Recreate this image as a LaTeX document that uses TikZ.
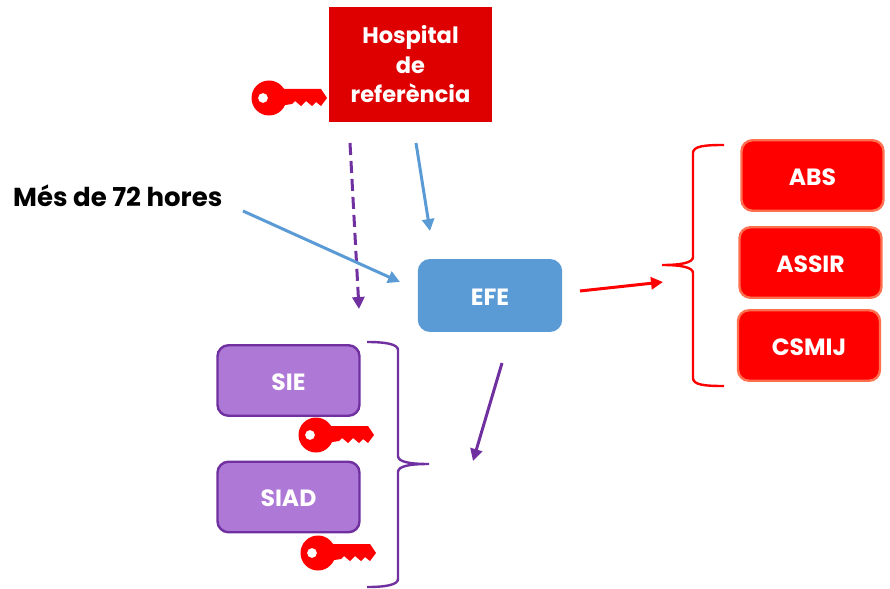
\documentclass[tikz,border=0pt]{standalone}
\usepackage{fontspec}
\setmainfont{Poppins}
\usetikzlibrary{arrows.meta}
\definecolor{hospred}{RGB}{222, 0, 0}
\definecolor{keyred}{RGB}{255, 0, 0}
\definecolor{redline}{RGB}{255, 112, 80}
\definecolor{efeblue}{RGB}{91, 155, 213}
\definecolor{lilac}{RGB}{173, 120, 214}
\definecolor{violet}{RGB}{112, 48, 160}
\tikzset{
    box/.style={draw, rounded corners=11pt, line width=2.4pt, minimum width=142pt,
        minimum height=70.5pt, text=white, text height=20pt,
        font=\fontsize{23.5}{28}\selectfont\bfseries},
    redbox/.style={box, fill=keyred, draw=redline},
    purplebox/.style={box, fill=lilac, draw=violet},
    link/.style={-{Triangle[length=12pt, width=12pt]}, line width=3pt},
    brace/.style={line width=2.4pt},
    pics/redkey/.style={code={
        \fill[keyred, even odd rule] (0, 0) circle (17.5)
            (-6, 0) circle (5);
        \fill[keyred] (10, -9) -- (52, -9) -- (58, 0) -- (52, 8) -- (47, 4)
            -- (43, 8) -- (37, 3) -- (32, 8) -- (26, 3) -- (23, 6) -- (10, 8)
            -- cycle;
    }}
}
\begin{document}
\begin{tikzpicture}[x=1pt, y=-1pt]
    \useasboundingbox (0, 0) rectangle (890, 588);

    \node[fill=hospred, minimum width=163pt, minimum height=115pt, text=white,
        align=center, font=\fontsize{22.5}{29.5}\selectfont\bfseries] (hospital)
        at (410.5, 64.5) {Hospital\\de\\referència};
    \node[box, fill=efeblue, draw=efeblue] (efe) at (490, 295.5) {EFE};
    \node[purplebox] (sie) at (288.5, 380.5) {SIE};
    \node[purplebox] (siad) at (288.5, 497) {SIAD};
    \node[redbox] (abs) at (812.5, 175.5) {ABS};
    \node[redbox] (assir) at (810.5, 262.5) {ASSIR};
    \node[redbox] (csmij) at (809, 345.5) {CSMIJ};
    \node[font=\fontsize{26}{30}\selectfont\bfseries, anchor=west, inner sep=0pt]
        (hores) at (13, 196) {Més de 72 hores};

    \pic at (269, 98) {redkey};
    \pic at (316, 435) {redkey};
    \pic at (318, 553) {redkey};

    \coordinate (hosp-a) at (350, 143);
    \coordinate (hosp-a-end) at (359, 309);
    \coordinate (hosp-b) at (416, 143);
    \coordinate (hosp-b-end) at (430, 231);
    \coordinate (hores-start) at (243, 211);
    \coordinate (hores-end) at (400, 282);
    \coordinate (efe-red) at (580, 291);
    \coordinate (efe-red-end) at (663, 282);
    \coordinate (efe-purple) at (502, 363);
    \coordinate (efe-purple-end) at (473, 461);

    \draw[link, violet, dash pattern=on 12pt off 6pt] (hosp-a) -- (hosp-a-end);
    \draw[link, efeblue] (hosp-b) -- (hosp-b-end);
    \draw[link, efeblue] (hores-start) -- (hores-end);
    \draw[link, keyred] (efe-red) -- (efe-red-end);
    \draw[link, violet] (efe-purple) -- (efe-purple-end);

    % right brace
    \draw[brace, keyred] (724, 145) .. controls (705, 145) and (693, 146) .. (693, 153)
        -- (693, 257) .. controls (693, 263) and (680, 265) .. (662, 265)
        .. controls (680, 265) and (693, 267) .. (693, 273)
        -- (693, 378) .. controls (693, 385) and (705, 386) .. (724, 386);
    % left brace
    \draw[brace, violet] (367, 342) .. controls (385, 342) and (398, 344) .. (398, 350)
        -- (398, 456) .. controls (398, 462) and (410, 464) .. (429, 464)
        .. controls (410, 464) and (398, 466) .. (398, 472)
        -- (398, 579) .. controls (398, 585) and (385, 587) .. (367, 587);
\end{tikzpicture}
\end{document}
